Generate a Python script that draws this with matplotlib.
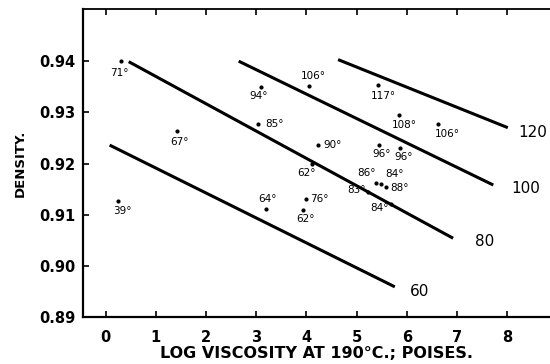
import matplotlib
matplotlib.use("Agg")
import matplotlib.pyplot as plt

# sample points: log viscosity, density, temperature label
log_visc = [0.31, 3.10, 3.03, 1.42, 4.05, 5.42, 5.84, 6.62, 4.23, 5.44, 5.86,
            4.11, 5.39, 5.48, 5.58, 5.23, 5.69, 4.00, 3.93, 0.25, 3.19]
density = [0.9400, 0.9349, 0.9278, 0.9263, 0.9351, 0.9354, 0.9295, 0.9277,
           0.9236, 0.9236, 0.9231, 0.9200, 0.9161, 0.9160, 0.9155, 0.9145,
           0.9120, 0.9130, 0.9109, 0.9127, 0.9111]
temps = ["71°", "94°", "85°", "67°", "106°", "117°", "108°", "106°", "90°",
         "96°", "96°", "62°", "86°", "84°", "88°", "83°", "84°", "76°", "62°",
         "39°", "64°"]

# iso-temperature lines (start / end points)
iso_names = ["60", "80", "100", "120"]
iso_x0 = [0.08, 0.46, 2.65, 4.63]
iso_y0 = [0.9236, 0.9399, 0.9400, 0.9403]
iso_x1 = [5.76, 6.92, 7.72, 8.01]
iso_y1 = [0.8959, 0.9054, 0.9158, 0.9270]

x_ticks = [0, 1, 2, 3, 4, 5, 6, 7, 8]
y_ticks = [0.89, 0.90, 0.91, 0.92, 0.93, 0.94]

# label offsets in pixels (dx right, dy down)
label_off = [(-2, 12), (-3, 9), (17, 0), (3, 11), (4, -10), (6, 11), (5, 10),
             (9, 10), (15, 0), (3, 9), (4, 9), (-5, 9), (-10, -10), (14, -10),
             (14, 1), (-12, -2), (-12, 4), (13, 0), (3, 9), (4, 10), (2, -10)]
iso_off = [(25, 5), (32, 3), (32, 3), (25, 5)]

fig = plt.figure(figsize=(5.5, 3.64), dpi=100)
ax = fig.add_axes([0.150, 0.129, 0.85, 0.845])

for i, name in enumerate(iso_names):
    ax.plot([iso_x0[i], iso_x1[i]], [iso_y0[i], iso_y1[i]], color="black",
            linewidth=2.2, solid_capstyle="butt")
    dx, dy = iso_off[i]
    ax.annotate(name, (iso_x1[i], iso_y1[i]), xytext=(dx * 0.72, -dy * 0.72),
                textcoords="offset points", ha="center", va="center", fontsize=11)

ax.scatter(log_visc, density, s=4, color="black", zorder=3)
for x, y, t, (dx, dy) in zip(log_visc, density, temps, label_off):
    ax.annotate(t, (x, y), xytext=(dx * 0.72, -dy * 0.72), textcoords="offset points",
                ha="center", va="center", fontsize=7.5)

ax.set_xlim(-0.46, 8.85)
ax.set_ylim(0.89, 0.9501)
ax.set_xticks(x_ticks)
ax.set_xticklabels([str(v) for v in x_ticks], fontweight="bold", fontsize=10.5)
ax.set_yticks(y_ticks)
ax.set_yticklabels([f"{v:.2f}" for v in y_ticks], fontweight="bold", fontsize=10.5)
ax.tick_params(axis="x", direction="in", length=4, width=1.2, top=True, pad=9)
ax.tick_params(axis="y", direction="in", length=4, width=1.2, pad=5)

ax.spines["right"].set_visible(False)
for s in ["left", "bottom"]:
    ax.spines[s].set_linewidth(1.6)
ax.spines["top"].set_linewidth(1.3)

ax.set_xlabel("LOG VISCOSITY AT 190°C.; POISES.", fontweight="bold", fontsize=11.5, labelpad=1)
ax.set_ylabel("DENSITY.", fontweight="bold", fontsize=9.5, labelpad=9)

fig.savefig("out.png", dpi=100)
